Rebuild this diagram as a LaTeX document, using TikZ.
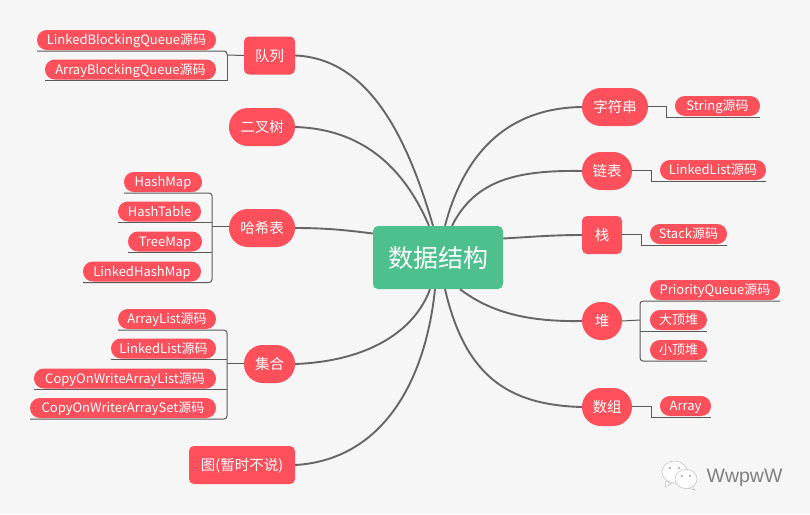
\documentclass[tikz,border=0pt]{standalone}
\usepackage{fontspec}
\setmainfont{Noto Sans CJK SC}
\newfontfamily\markfont{Liberation Sans}
\usepackage{xcolor}
\definecolor{canvas}{HTML}{F6F6F6}
\definecolor{coral}{HTML}{FF505B}
\definecolor{jade}{HTML}{4DC08D}
\definecolor{trunkgray}{HTML}{666666}
\definecolor{twiggray}{HTML}{5A5A5A}
\tikzset{
  rootbox/.style={fill=jade,text=white,rounded corners=5pt,inner sep=0pt,text height=21pt,text depth=2pt,font=\fontsize{25}{25}\selectfont},
  branchbox/.style={fill=coral,text=white,rounded corners=5pt,inner sep=0pt,minimum height=38pt,text height=12pt,text depth=1pt,font=\fontsize{14.5}{15}\selectfont},
  branchpill/.style={branchbox,rounded corners=18.9pt},
  leaf/.style={fill=coral,text=white,rounded corners=9.9pt,inner sep=0pt,minimum height=20pt,outer ysep=1pt,outer xsep=0pt,text height=10.5pt,text depth=1pt,font=\fontsize{13}{13}\selectfont},
  trunk/.style={trunkgray,line width=1.9pt},
  twig/.style={twiggray,line width=1pt}
}

\begin{document}
\begin{tikzpicture}[x=1pt,y=-1pt]
  \fill[canvas] (0,0) rectangle (810,514);
  \useasboundingbox (0,0) rectangle (810,514);

  % Root
  \node[rootbox,minimum width=130pt,minimum height=63pt] (root) at (438,257.5) {数据结构};

  % Left branches
  \node[branchbox,minimum width=51pt] (queue) at (269.5,55.5) {队列};
  \node[branchpill,minimum width=66pt] (tree) at (262,127) {二叉树};
  \node[branchpill,minimum width=66pt] (hash) at (262,228) {哈希表};
  \node[branchpill,minimum width=51pt] (coll) at (269.5,364) {集合};
  \node[branchbox,minimum width=106pt] (graph) at (242,465) {图(暂时不说)};

  % Right branches
  \node[branchpill,minimum width=66pt] (str) at (615,107) {字符串};
  \node[branchpill,minimum width=50pt] (link) at (607,171) {链表};
  \node[branchbox,minimum width=40pt] (stack) at (602,235) {栈};
  \node[branchpill,minimum width=40pt] (heap) at (602,321) {堆};
  \node[branchpill,minimum width=50pt] (arr) at (607,407) {数组};

  % Trunks
  \draw[trunk] (queue.east) .. controls +(75,3) and (408,140) .. ([xshift=-5pt]root.north);
  \draw[trunk] (tree.east) .. controls +(65,2) and (403,165) .. ([xshift=-9pt]root.north);
  \draw[trunk] (hash.east) .. controls +(30,0) and (345,230) .. ([yshift=24pt]root.west);
  \draw[trunk] (coll.east) .. controls +(75,-3) and (415,330) .. ([xshift=-8pt]root.south);
  \draw[trunk] (graph.east) .. controls +(85,-5) and (425,385) .. ([xshift=-3pt]root.south);
  \draw[trunk] (str.west) .. controls +(-72,1) and (465,150) .. ([xshift=7pt]root.north);
  \draw[trunk] (link.west) .. controls +(-65,-1) and (475,180) .. ([xshift=14pt]root.north);
  \draw[trunk] (stack.west) .. controls +(-30,0) and (530,237) .. ([yshift=19pt]root.east);
  \draw[trunk] (heap.west) .. controls +(-55,1) and (490,312) .. ([xshift=22pt]root.south);
  \draw[trunk] (arr.west) .. controls +(-75,-2) and (465,375) .. ([xshift=7pt]root.south);

  % Queue leaves
  \node[leaf,minimum width=179pt] (lbq) at (126.5,40) {LinkedBlockingQueue源码};
  \node[leaf,minimum width=171pt] (abq) at (130.5,69.5) {ArrayBlockingQueue源码};
  \coordinate (qfork) at (227,55);
  \draw[twig] (queue.west) -- (qfork);
  \draw[twig,rounded corners=3pt] (lbq.south west) -| (qfork);
  \draw[twig] (qfork) |- (abq.south west);

  % Hash leaves
  \node[leaf,minimum width=78pt] (hmap) at (163,182) {HashMap};
  \node[leaf,minimum width=83pt] (htab) at (159.5,211.5) {HashTable};
  \node[leaf,minimum width=74pt] (tmap) at (165,241.5) {TreeMap};
  \node[leaf,minimum width=118pt] (lhm) at (142,271.5) {LinkedHashMap};
  \coordinate (hfork) at (212,226);
  \draw[twig] (hash.west |- hfork) -- (hfork);
  \draw[twig,rounded corners=3pt] (hmap.south west) -| (hfork);
  \draw[twig,rounded corners=3pt] (lhm.south west) -| (hfork);
  \draw[twig] (htab.south west) -- (htab.south -| hfork);
  \draw[twig] (tmap.south west) -- (tmap.south -| hfork);

  % Collection leaves
  \node[leaf,minimum width=98pt] (alist) at (167,319) {ArrayList源码};
  \node[leaf,minimum width=105pt] (llist) at (163.5,348.5) {LinkedList源码};
  \node[leaf,minimum width=182pt] (cowl) at (125,378.5) {CopyOnWriteArrayList源码};
  \node[leaf,minimum width=186pt] (cows) at (123,408) {CopyOnWriterArraySet源码};
  \coordinate (cfork) at (227,363);
  \draw[twig] (coll.west |- cfork) -- (cfork);
  \draw[twig,rounded corners=3pt] (alist.south west) -| (cfork);
  \draw[twig,rounded corners=3pt] (cows.south west) -| (cfork);
  \draw[twig] (llist.south west) -- (llist.south -| cfork);
  \draw[twig] (cowl.south west) -- (cowl.south -| cfork);

  % Single leaves on the right
  \node[leaf,minimum width=85pt] (strsrc) at (717.5,106) {String源码};
  \draw[twig] (str.east |- strsrc) -- (666,106) |- (strsrc.south east);
  \node[leaf,minimum width=106pt] (linksrc) at (713,170) {LinkedList源码};
  \draw[twig] (link.east |- linksrc) -- (651,170) |- (linksrc.south east);
  \node[leaf,minimum width=77pt] (stacksrc) at (688.5,234) {Stack源码};
  \draw[twig] (stack.east |- stacksrc) -- (641,234) |- (stacksrc.south east);
  \node[leaf,minimum width=51pt] (arrsrc) at (685.5,406) {Array};
  \draw[twig] (arr.east |- arrsrc) -- (651,406) |- (arrsrc.south east);

  % Heap leaves
  \node[leaf,minimum width=130pt] (pq) at (715,290) {PriorityQueue源码};
  \node[leaf,minimum width=57pt] (maxh) at (678.5,320) {大顶堆};
  \node[leaf,minimum width=57pt] (minh) at (678.5,350) {小顶堆};
  \coordinate (pfork) at (640,320);
  \draw[twig] (heap.east) -- (pfork);
  \draw[twig,rounded corners=3pt] (pq.south east) -| (pfork);
  \draw[twig,rounded corners=3pt] (minh.south east) -| (pfork);
  \draw[twig] (pfork |- maxh.south) -- (maxh.south east);

  % Watermark
  \draw[black!25,fill=white,line width=0.5pt] (666,481) -- (665,487) -- (671,484) -- cycle;
  \draw[black!25,fill=white,line width=0.5pt] (674.5,472) ellipse (12.5pt and 11pt);
  \fill[black!35] (670,468) circle (1.2pt) (679,468) circle (1.2pt);
  \draw[black!25,fill=white,line width=0.5pt] (692,486) -- (695,490) -- (688,488) -- cycle;
  \draw[black!25,fill=white,line width=0.5pt] (686,479) ellipse (11pt and 9.5pt);
  \fill[black!35] (682,476) circle (1.1pt) (690,476) circle (1.1pt);
  \node[font=\markfont\fontsize{19.5}{20}\selectfont,text=black!50,inner sep=0pt,text height=14pt,text depth=0pt] (mark) at (744.5,475) {WwpwW};
\end{tikzpicture}
\end{document}
